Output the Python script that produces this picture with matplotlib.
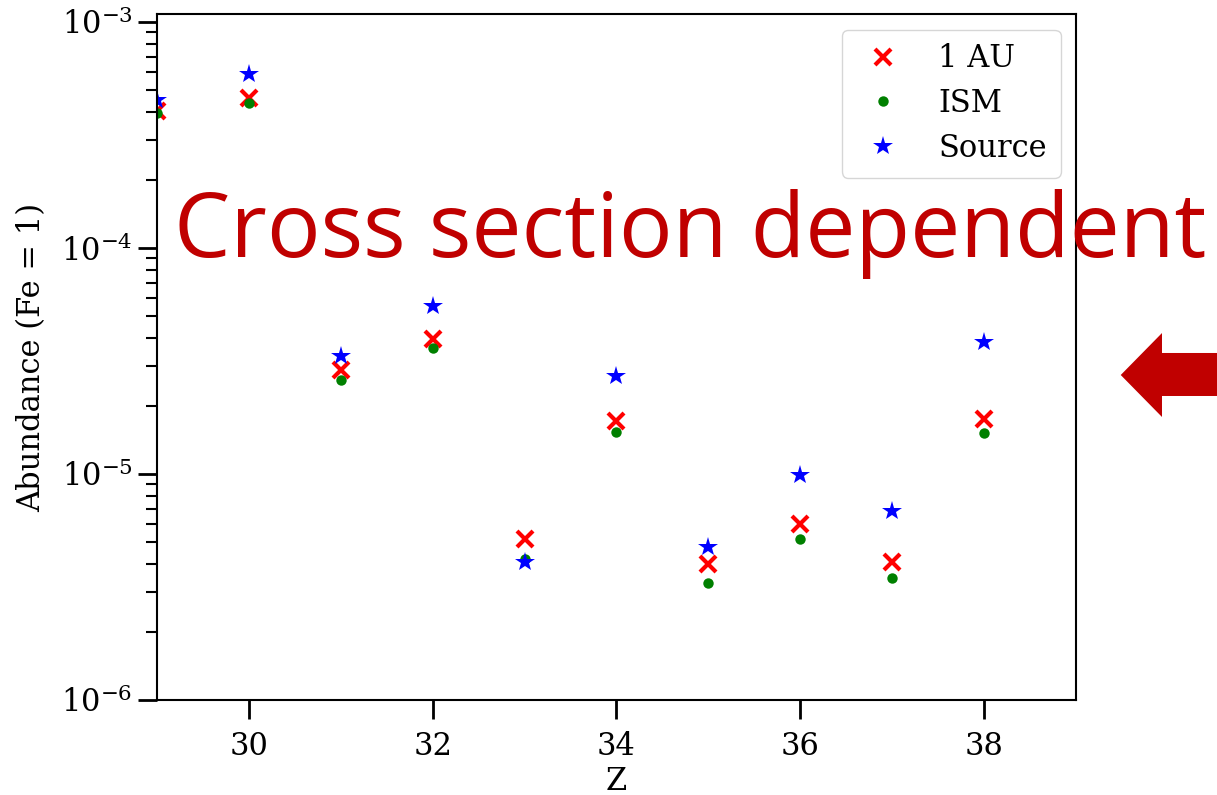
import matplotlib
matplotlib.use('Agg')
import matplotlib.pyplot as plt
from matplotlib.patches import Polygon

Z = [29, 30, 31, 32, 33, 34, 35, 36, 37, 38]
au1 = [4.04e-4, 4.61e-4, 2.88e-5, 3.96e-5, 5.16e-6, 1.72e-5, 4.0e-6, 6.01e-6, 4.08e-6, 1.75e-5]
ism = [3.95e-4, 4.38e-4, 2.61e-5, 3.61e-5, 4.21e-6, 1.53e-5, 3.29e-6, 5.16e-6, 3.47e-6, 1.52e-5]
source = [4.52e-4, 5.89e-4, 3.33e-5, 5.54e-5, 4.08e-6, 2.71e-5, 4.75e-6, 9.9e-6, 6.86e-6, 3.84e-5]

plt.rcParams['font.family'] = 'DejaVu Serif'
plt.rcParams['mathtext.fontset'] = 'dejavuserif'

fig = plt.figure(figsize=(12.17, 7.95), dpi=100)
ax = fig.add_axes([0.129, 0.1195, 0.755, 0.8625])

ax.plot(Z, au1, 'x', color='red', ms=12, mew=3, label='1 AU')
ax.plot(Z, ism, 'o', color='green', ms=7.5, mew=0, label='ISM')
ax.plot(Z, source, '*', color='blue', ms=15, mew=0, label='Source')

ax.set_yscale('log')
ax.set_xlim(29, 39)
ax.set_ylim(1e-6, 1.08e-3)
ax.set_xticks([30, 32, 34, 36, 38])
ax.tick_params(labelsize=22)
ax.tick_params(which='major', length=14, width=2)
ax.tick_params(axis='x', which='major', pad=8)
ax.tick_params(which='minor', length=8, width=1.5)
for s in ax.spines.values():
    s.set_linewidth(1.5)
ax.set_xlabel('Z', fontsize=22, labelpad=3)
ax.set_ylabel('Abundance (Fe = 1)', fontsize=22, labelpad=10)

ax.legend(loc='upper right', fontsize=22, borderpad=0.45, handletextpad=0.9,
          handlelength=1.8, labelspacing=0.45, borderaxespad=0.5)

fig.text(0.143, 0.677, 'Cross section dependent', fontsize=64.4,
         family='Open Sans', color='#C00000')

arrow = Polygon([(0.9209, 0.5283), (0.9548, 0.5811), (0.9548, 0.5560),
                 (1.01, 0.5560), (1.01, 0.5019), (0.9548, 0.5019),
                 (0.9548, 0.4755)], closed=True, transform=fig.transFigure,
                facecolor='#C00000', edgecolor='none')
fig.patches.append(arrow)

fig.savefig('out.png', dpi=100)
